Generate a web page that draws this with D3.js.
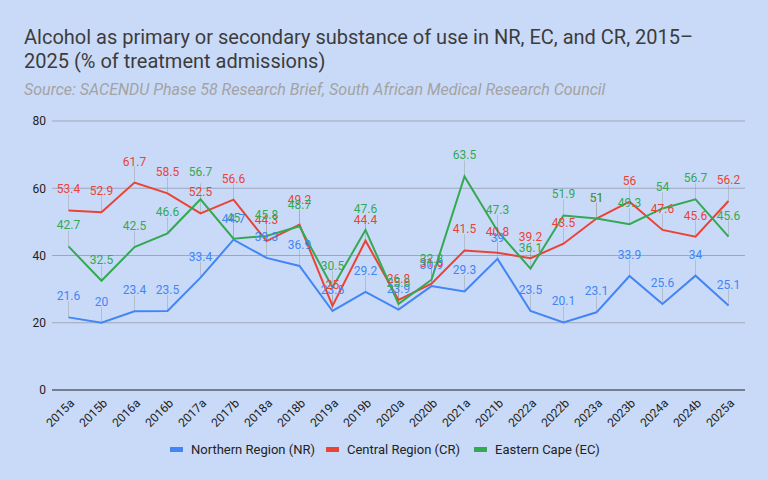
<!DOCTYPE html>
<html>
<head>
<meta charset="utf-8">
<script src="https://cdn.jsdelivr.net/npm/d3@7"></script>
<style>
  body { margin: 0; background: #c9daf8; }
  text { font-family: Roboto, Arial, sans-serif; }
</style>
</head>
<body>
<script>
// Half-year periods
const periods = ["2015a", "2015b", "2016a", "2016b", "2017a", "2017b", "2018a", "2018b",
  "2019a", "2019b", "2020a", "2020b", "2021a", "2021b", "2022a", "2022b",
  "2023a", "2023b", "2024a", "2024b", "2025a"];

// % of treatment admissions, per region
const northern = [21.6, 20, 23.4, 23.5, 33.4, 44.7, 39.3, 36.9, 23.5, 29.2, 23.9,
  30.9, 29.3, 39, 23.5, 20.1, 23.1, 33.9, 25.6, 34, 25.1];
const central = [53.4, 52.9, 61.7, 58.5, 52.5, 56.6, 44.3, 49.2, 25, 44.4, 26.8,
  31.6, 41.5, 40.8, 39.2, 43.5, 51, 56, 47.6, 45.6, 56.2];
const eastern = [42.7, 32.5, 42.5, 46.6, 56.7, 45, 45.8, 48.7, 30.5, 47.6, 25.6,
  32.8, 63.5, 47.3, 36.1, 51.9, 51, 49.3, 54, 56.7, 45.6];

const yTicks = [0, 20, 40, 60, 80];

const series = [
  { name: "Northern Region (NR)", values: northern, color: "#4285f4" },
  { name: "Central Region (CR)", values: central, color: "#ea4335" },
  { name: "Eastern Cape (EC)", values: eastern, color: "#34a853" }
];

// a few labels pushed up so they sit where the original puts them
const nudge = { "Eastern Cape (EC):2017a": -6, "Central Region (CR):2018b": -4 };

const width = 768, height = 480;
const plot = { left: 52, right: 745, top: 121, bottom: 390 };

const svg = d3.select("body").append("svg")
    .attr("width", width)
    .attr("height", height);

svg.append("rect")
    .attr("width", width)
    .attr("height", height)
    .attr("fill", "#c9daf8");

// Title and source
svg.append("text")
    .attr("x", 24).attr("y", 44)
    .attr("font-size", 20).attr("fill", "#3c3c3c")
    .text("Alcohol as primary or secondary substance of use in NR, EC, and CR, 2015–");
svg.append("text")
    .attr("x", 24).attr("y", 68)
    .attr("font-size", 20).attr("fill", "#3c3c3c")
    .text("2025 (% of treatment admissions)");
svg.append("text")
    .attr("x", 24).attr("y", 95)
    .attr("font-size", 16).attr("font-style", "italic").attr("fill", "#a3a3a3")
    .text("Source: SACENDU Phase 58 Research Brief, South African Medical Research Council");

const x = d3.scalePoint()
    .domain(periods)
    .range([plot.left, plot.right])
    .padding(0.5);

const y = d3.scaleLinear()
    .domain([0, 80])
    .range([plot.bottom, plot.top]);

// Gridlines
svg.append("g")
  .selectAll("line")
  .data(yTicks)
  .enter().append("line")
    .attr("x1", plot.left).attr("x2", plot.right)
    .attr("y1", d => y(d)).attr("y2", d => y(d))
    .attr("stroke", d => d === 0 ? "#222" : "#9ea7b9")
    .attr("stroke-width", 1);

// Y axis labels
const yAxis = svg.append("g")
    .attr("transform", `translate(${plot.left - 6},0)`)
    .call(d3.axisLeft(y).tickValues(yTicks).tickSize(0).tickPadding(0));
yAxis.select(".domain").remove();
yAxis.selectAll("text").attr("font-size", 12).attr("fill", "#222")
    .attr("font-family", "Arial, 'Liberation Sans', sans-serif");

// X axis labels, rotated
const xAxis = svg.append("g")
    .attr("transform", `translate(0,${plot.bottom})`)
    .call(d3.axisBottom(x).tickSize(0).tickPadding(0));
xAxis.select(".domain").remove();
xAxis.selectAll("text")
    .attr("font-size", 12).attr("fill", "#222")
    .attr("font-family", "Arial, 'Liberation Sans', sans-serif")
    .attr("text-anchor", "end")
    .attr("dy", null)
    .attr("transform", "translate(6,14) rotate(-45)");

// Annotation stems
series.forEach(s => {
  svg.append("g")
    .selectAll("line")
    .data(s.values)
    .enter().append("line")
      .attr("x1", (d, i) => x(periods[i])).attr("x2", (d, i) => x(periods[i]))
      .attr("y1", d => y(d)).attr("y2", d => y(d) - 16)
      .attr("stroke", "#999").attr("stroke-opacity", 0.45);
});

// Lines
const line = d3.line()
    .x((d, i) => x(periods[i]))
    .y(d => y(d));

series.forEach(s => {
  svg.append("path")
      .datum(s.values)
      .attr("fill", "none")
      .attr("stroke", s.color)
      .attr("stroke-width", 2)
      .attr("d", line);
});

// Data labels
series.forEach(s => {
  svg.append("g")
    .selectAll("text")
    .data(s.values)
    .enter().append("text")
      .attr("x", (d, i) => x(periods[i]))
      .attr("y", (d, i) => y(d) - 17 + (nudge[s.name + ":" + periods[i]] || 0))
      .attr("text-anchor", "middle")
      .attr("font-size", 12)
      .attr("fill", s.color)
      .text(d => d);
});

// Legend
const legendX = [170, 326, 474];
const legend = svg.append("g")
  .selectAll("g")
  .data(series)
  .enter().append("g")
    .attr("transform", (d, i) => `translate(${legendX[i]},449)`);
legend.append("rect")
    .attr("x", 0).attr("y", -2)
    .attr("width", 13).attr("height", 5)
    .attr("fill", d => d.color);
legend.append("text")
    .attr("x", 21).attr("y", 5)
    .attr("font-size", 13).attr("fill", "#222")
    .attr("font-family", "Arial, 'Liberation Sans', sans-serif")
    .text(d => d.name);
</script>
</body>
</html>
